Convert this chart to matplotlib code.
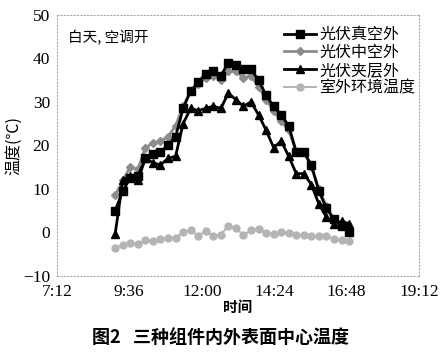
import numpy as np
import pandas as pd
import matplotlib
matplotlib.use("Agg")
import matplotlib.pyplot as plt
import matplotlib.dates as mdates

plt.rcParams["font.family"] = ["Noto Sans CJK SC", "DejaVu Sans"]

# sampling times, every 15 min
times = pd.date_range("2000-01-01 09:08", periods=32, freq="15min")

# temperatures
vacuum_out = [5, 9.5, 12.5, 13, 17, 18, 18.5, 20, 22, 28.5, 32.5, 34.5, 36.5, 37, 36, 39,
              38.5, 37.5, 37.5, 35, 31.5, 29, 27, 24.5, 18.5, 18.5, 15.5, 9.5, 5.5, 3, 1.5, 0]
hollow_out = [8.5, 12, 15, 14.5, 19.5, 20.5, 21, 22, 24.5, 29, 32.5, 34, 35.5, 36, 35, 37,
              37, 35.5, 36, 33.5, 30.5, 28, 25.5, 23.5, 18.5, 18.5, 15, 10, 6, 3, 1.5, 1]
sandwich_out = [-0.3, 12, 13, 12, 17, 16, 15.5, 17, 17.5, 25, 28.5, 28, 28.5, 29, 28.5, 32,
                30.5, 29, 30, 27, 23.5, 19.5, 21, 17.5, 13.5, 13.5, 11, 6.5, 3.5, 2, 2.5, 2]
ambient = [-3.5, -3, -2.5, -2.7, -1.8, -2, -1.5, -1.3, -1.2, 0, 0.5, -0.8, 0.3, -0.8, -0.5, 1.5,
           1, -0.7, 0.5, 0.8, -0.2, -0.3, 0, -0.2, -0.6, -0.6, -0.8, -0.8, -0.9, -1.5, -1.8, -2]

labels = ["光伏真空外", "光伏中空外", "光伏夹层外", "室外环境温度"]
xticks = pd.date_range("2000-01-01 07:12", periods=6, freq="144min")
yticks = [-10, 0, 10, 20, 30, 40, 50]

fig = plt.figure(figsize=(4.41, 3.55), dpi=100)
ax = fig.add_axes([0.129, 0.223, 0.821, 0.735])

ax.plot(times, ambient, color="#b4b4b4", marker="o", markersize=5, lw=1.4, label=labels[3], zorder=2)
ax.plot(times, hollow_out, color="#8c8c8c", marker="D", markersize=3.8, lw=2, label=labels[1], zorder=3)
ax.plot(times, sandwich_out, color="black", marker="^", markersize=5.5, lw=2, label=labels[2], zorder=4)
ax.plot(times, vacuum_out, color="black", marker="s", markersize=5.5, lw=2, label=labels[0], zorder=5)

ax.set_xlim(xticks[0], xticks[-1])
ax.set_ylim(-10, 50)
ax.set_xticks(xticks)
ax.set_yticks(yticks)
ax.xaxis.set_major_formatter(mdates.DateFormatter("%-H:%M"))
ax.tick_params(length=0, pad=6)
ax.tick_params(axis="y", pad=5)
for lab in ax.get_xticklabels() + ax.get_yticklabels():
    lab.set_fontfamily("Liberation Serif")
    lab.set_fontsize(12.5)

for s in ax.spines.values():
    s.set_linestyle((0, (1, 2)))
    s.set_color("#aaaaaa")
    s.set_linewidth(0.8)

ax.set_xlabel("时间", fontsize=10.5, fontweight="bold", labelpad=-1)
ax.set_ylabel("温度(℃)", fontsize=11.5)
ax.yaxis.set_label_coords(-0.097, 0.5)
ax.text(0.03, 0.895, "白天, 空调开", transform=ax.transAxes, fontsize=10.5)

h, l = ax.get_legend_handles_labels()
order = [3, 1, 2, 0]
ax.legend([h[i] for i in order], [l[i] for i in order], loc="upper right",
          bbox_to_anchor=(1.02, 1.0), frameon=False, fontsize=11.5,
          handlelength=2.0, handletextpad=0.2, labelspacing=0.05, borderaxespad=0.3)

fig.text(0.5, 0.03, "图2   三种组件内外表面中心温度", ha="center", fontsize=13, fontweight="bold")

fig.savefig("out.png", dpi=100)
